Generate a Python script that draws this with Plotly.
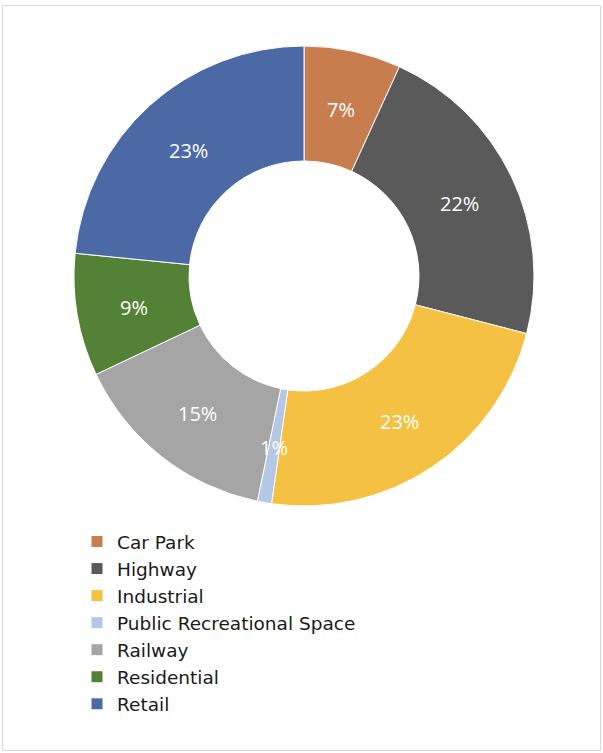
import math
import plotly.graph_objects as go

# Land-use share by category
categories = ["Car Park", "Highway", "Industrial", "Public Recreational Space",
              "Railway", "Residential", "Retail"]
shares = [6.8, 22.2, 23.2, 1.0, 14.7, 8.6, 23.4]
colors = ["#C87D4F", "#5A5A5A", "#F4C142", "#B4C7E7", "#A5A5A5", "#538135", "#4A69A5"]

W, H = 603, 753
# donut placement in pixels
CX, CY, R = 304, 276, 230
HOLE = 0.5

LABEL_FONT = "Open Sans, Lato, sans-serif"
LEGEND_FONT = "DejaVu Sans, Open Sans, sans-serif"

fig = go.Figure(go.Pie(
    labels=categories,
    values=shares,
    hole=HOLE,
    sort=False,
    direction="clockwise",
    rotation=0,
    marker=dict(colors=colors, line=dict(color="white", width=1)),
    textinfo="none",
    domain=dict(x=[(CX - R) / W, (CX + R) / W], y=[1 - (CY + R) / H, 1 - (CY - R) / H]),
    showlegend=True,
))

# percentage labels centred in the ring at each slice's mid angle
total = sum(shares)
annotations = []
cum = 0.0
r_mid = R * (1 + HOLE) / 2
for v in shares:
    mid = (cum + v / 2) / total * 2 * math.pi
    cum += v
    px = CX + r_mid * math.sin(mid)
    py = CY - r_mid * math.cos(mid) + 2
    annotations.append(dict(
        x=px / W, y=1 - py / H, xref="paper", yref="paper",
        text=f"{round(100 * v / total)}%", showarrow=False,
        xanchor="center", yanchor="middle",
        font=dict(family=LABEL_FONT, size=20, color="white"),
    ))

fig.update_layout(
    width=W, height=H,
    margin=dict(l=0, r=0, t=0, b=0),
    paper_bgcolor="white",
    annotations=annotations,
    legend=dict(
        x=77 / W, y=1 - 523 / H, xanchor="left", yanchor="top",
        font=dict(family=LEGEND_FONT, size=18.5, color="#1a1a1a"),
        itemclick=False, itemdoubleclick=False,
        tracegroupgap=0,
    ),
    shapes=[dict(type="rect", xref="paper", yref="paper",
                 x0=2.5 / W, x1=600.5 / W, y0=1 - 750.5 / H, y1=1 - 5.5 / H,
                 line=dict(color="#D9D9D9", width=1))],
)

fig.write_html("out.html")
